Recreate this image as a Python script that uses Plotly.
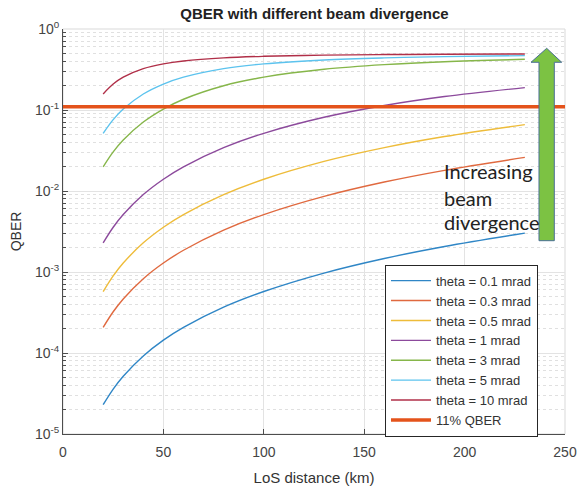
import plotly.graph_objects as go

# ---- data ----
distance_km = [20, 25, 30, 40, 50, 60, 80, 100, 130, 160, 190, 230]

qber_theta_0_1 = [2.3e-5, 3.59e-5, 5.17e-5, 9.2e-5, 1.44e-4, 2.07e-4, 3.68e-4, 5.74e-4, 9.70e-4, 1.468e-3, 2.067e-3, 3.023e-3]
qber_theta_0_3 = [2.07e-4, 3.23e-4, 4.65e-4, 8.27e-4, 1.29e-3, 1.856e-3, 3.29e-3, 5.12e-3, 8.59e-3, 0.0129, 0.0180, 0.0260]
qber_theta_0_5 = [5.74e-4, 8.97e-4, 1.29e-3, 2.29e-3, 3.57e-3, 5.12e-3, 9.03e-3, 0.01397, 0.02317, 0.03428, 0.04701, 0.0660]
qber_theta_1 = [2.29e-3, 3.57e-3, 5.12e-3, 9.03e-3, 0.01397, 0.01988, 0.03428, 0.05157, 0.08136, 0.11372, 0.14668, 0.18912]
qber_theta_3 = [0.01988, 0.03038, 0.04260, 0.07103, 0.10278, 0.13573, 0.19923, 0.25430, 0.31813, 0.36300, 0.39443, 0.42278]
qber_theta_5 = [0.05157, 0.07616, 0.10278, 0.15753, 0.20909, 0.25430, 0.32394, 0.37097, 0.41466, 0.44019, 0.45606, 0.46915]
qber_theta_10 = [0.158, 0.20909, 0.2543, 0.32394, 0.37097, 0.40272, 0.44019, 0.46, 0.47553, 0.48357, 0.48824, 0.49191]

series_names = ["theta = 0.1 mrad", "theta = 0.3 mrad", "theta = 0.5 mrad",
                "theta = 1 mrad", "theta = 3 mrad", "theta = 5 mrad", "theta = 10 mrad"]
series_values = [qber_theta_0_1, qber_theta_0_3, qber_theta_0_5, qber_theta_1,
                 qber_theta_3, qber_theta_5, qber_theta_10]

threshold_name = "11% QBER"
threshold_x = [0, 250]
threshold_qber = [0.11, 0.11]

x_tickvals = [0, 50, 100, 150, 200, 250]
y_tickvals = [1e-5, 1e-4, 1e-3, 1e-2, 1e-1, 1]
y_ticktext = ["10<sup>-5</sup>", "10<sup>-4</sup>", "10<sup>-3</sup>",
              "10<sup>-2</sup>", "10<sup>-1</sup>", "10<sup>0</sup>"]

annotation_lines = ["Increasing", "beam", "divergence"]

# ---- styling ----
colors = ["#2f86c6", "#e0693f", "#eebc3a", "#8c4a9c", "#86b64a", "#5cc3ee", "#b02f48"]
threshold_color = "#e4531b"
axis_color = "#4d4d4d"
font_family = "Liberation Sans, Arial, sans-serif"

fig = go.Figure()

for name, vals, col in zip(series_names, series_values, colors):
    fig.add_trace(go.Scatter(x=distance_km, y=vals, mode="lines", name=name,
                             line=dict(color=col, width=1.4, shape="spline", smoothing=1.0)))

fig.add_trace(go.Scatter(x=threshold_x, y=threshold_qber, mode="lines", name=threshold_name,
                         line=dict(color=threshold_color, width=3.5)))

minor_vals = [m * 10 ** e for e in range(-5, 0) for m in range(2, 10)]

fig.update_xaxes(range=[0, 250], tickvals=x_tickvals, showgrid=True, gridcolor="#e3e3e3",
                 gridwidth=1, showline=True, linecolor=axis_color, linewidth=1,
                 ticks="inside", ticklen=5, tickcolor=axis_color,
                 tickfont=dict(size=14, color="#444444", family=font_family),
                 ticklabelstandoff=5,
                 zeroline=False, automargin=False,
                 title=dict(text="LoS distance (km)", font=dict(size=15, color="#333333", family=font_family),
                            standoff=13))

fig.update_yaxes(type="log", range=[-5, 0], tickvals=y_tickvals, ticktext=y_ticktext,
                 showgrid=True, gridcolor="#e3e3e3", gridwidth=1,
                 showline=True, linecolor=axis_color, linewidth=1,
                 ticks="inside", ticklen=5, tickcolor=axis_color,
                 tickfont=dict(size=14, color="#444444", family=font_family),
                 minor=dict(tickvals=minor_vals, showgrid=True, gridcolor="#e0e0e0",
                            griddash="dot", gridwidth=1, ticks="inside", ticklen=3,
                            tickcolor=axis_color),
                 zeroline=False, automargin=False,
                 title=dict(text="QBER", font=dict(size=14, color="#333333", family=font_family),
                            standoff=10))

# light top/right border
fig.add_shape(type="rect", xref="paper", yref="paper", x0=0, y0=0, x1=1, y1=1,
              line=dict(color="#d9d9d9", width=1), layer="below")

# green arrow
arrow_path = ("M 0.9482,0.4773 L 0.9787,0.4773 L 0.9787,0.9178 L 0.9934,0.9178 "
              "L 0.9635,0.9523 L 0.9323,0.9178 L 0.9482,0.9178 Z")
fig.add_shape(type="path", xref="paper", yref="paper", path=arrow_path,
              fillcolor="#7cc243", line=dict(color="#4a6f96", width=1), layer="above")

for txt, yp in zip(annotation_lines, [0.6494, 0.5827, 0.5235]):
    fig.add_annotation(text=txt, xref="paper", yref="paper", x=0.755, y=yp,
                       xanchor="left", yanchor="middle", showarrow=False,
                       font=dict(family="Lato, sans-serif", size=20, color="#222222"))

fig.update_layout(
    width=578, height=486,
    margin=dict(l=63, r=13, t=29, b=52, autoexpand=False),
    paper_bgcolor="white", plot_bgcolor="white",
    font=dict(family=font_family, color="#333333"),
    title=dict(text="<b>QBER with different beam divergence</b>", x=0.544, xanchor="center",
               y=1 - 14 / 486, yanchor="middle", yref="container", xref="container",
               font=dict(size=15, color="#222222", family=font_family)),
    legend=dict(x=0.6414, y=0.418, xanchor="left", yanchor="top",
                bgcolor="white", bordercolor="#262626", borderwidth=1,
                font=dict(size=13, color="#333333", family=font_family),
                itemwidth=40, tracegroupgap=0),
    showlegend=True,
)

fig.write_html("out.html", config={"displayModeBar": False},
               post_script="document.body.style.margin='0px';")
